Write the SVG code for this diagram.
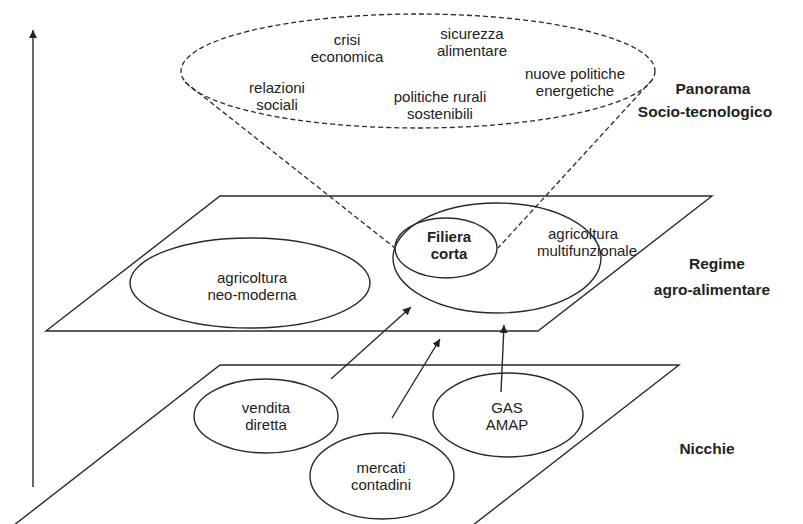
<svg xmlns="http://www.w3.org/2000/svg" width="803" height="524" viewBox="0 0 803 524">
<style>
.ln{fill:none;stroke:#2a2a2a;stroke-width:1.4}
.dash{fill:none;stroke:#2a2a2a;stroke-width:1.3;stroke-dasharray:5 3}
.t{font-family:"Liberation Sans",Arial,sans-serif;font-size:15px;fill:#222;text-anchor:middle;dominant-baseline:central}
.b{font-weight:bold}
.lb{font-weight:bold;font-size:15.5px}
</style>
<defs>
<marker id="ah" viewBox="0 0 10 10" refX="10" refY="5" markerWidth="8" markerHeight="8" markerUnits="userSpaceOnUse" orient="auto"><path d="M0,0 L10,5 L0,10 z" fill="#222"/></marker>
</defs>
<rect width="803" height="524" fill="#fff"/>
<g id="axis"><line class="ln" x1="33" y1="487" x2="33" y2="30" marker-end="url(#ah)"/></g>
<g id="plane-regime"><polygon class="ln" points="220,196 712,196 538,331 46,331"/></g>
<g id="plane-nicchie"><path class="ln" d="M9,529 L220,365 L679,365 L468,529"/></g>
<g id="panorama">
<ellipse class="dash" cx="418" cy="71" rx="237" ry="57"/>
<text class="t" x="347" y="39.5">crisi</text><text class="t" x="347" y="56.5">economica</text>
<text class="t" x="472" y="33.5">sicurezza</text><text class="t" x="472" y="50.5">alimentare</text>
<text class="t" x="277" y="87">relazioni</text><text class="t" x="277" y="104">sociali</text>
<text class="t" x="440" y="96">politiche rurali</text><text class="t" x="440" y="113">sostenibili</text>
<text class="t" x="575" y="73.5">nuove politiche</text><text class="t" x="575" y="90.5">energetiche</text>
</g>
<g id="neo-moderna"><ellipse class="ln" cx="250" cy="283" rx="120" ry="45"/>
<text class="t" x="252" y="277">agricoltura</text><text class="t" x="252" y="294">neo-moderna</text></g>
<g id="multifunzionale"><ellipse class="ln" cx="497" cy="258" rx="104" ry="55"/>
<text class="t" x="583" y="233.5">agricoltura</text><text class="t" x="587" y="250.5">multifunzionale</text></g>
<g id="filiera"><ellipse class="ln" cx="446" cy="248" rx="51" ry="30"/>
<text class="t b" x="449" y="236.5">Filiera</text><text class="t b" x="449" y="253.5">corta</text></g>
<g id="vendita"><ellipse class="ln" cx="266" cy="416" rx="72" ry="37"/>
<text class="t" x="266" y="407">vendita</text><text class="t" x="266" y="424">diretta</text></g>
<g id="mercati"><ellipse class="ln" cx="382" cy="476" rx="72" ry="43"/>
<text class="t" x="381" y="467.5">mercati</text><text class="t" x="381" y="484.5">contadini</text></g>
<g id="gas"><ellipse class="ln" cx="508" cy="415" rx="75" ry="42"/>
<text class="t" x="507" y="407">GAS</text><text class="t" x="507" y="424">AMAP</text></g>
<g id="labels">
<text class="t lb" x="713" y="88">Panorama</text><text class="t lb" x="705" y="111">Socio-tecnologico</text>
<text class="t lb" x="717" y="263">Regime</text><text class="t lb" x="712" y="289">agro-alimentare</text>
<text class="t lb" x="707" y="448">Nicchie</text>
</g>
<g id="connectors">
<line class="dash" x1="185" y1="82" x2="395" y2="248"/>
<line class="dash" x1="652" y1="80" x2="498" y2="248"/>
<line class="ln" x1="331" y1="379" x2="411" y2="307" marker-end="url(#ah)"/>
<line class="ln" x1="392" y1="418" x2="440" y2="339" marker-end="url(#ah)"/>
<line class="ln" x1="501" y1="392" x2="504" y2="325" marker-end="url(#ah)"/>
</g>
</svg>
